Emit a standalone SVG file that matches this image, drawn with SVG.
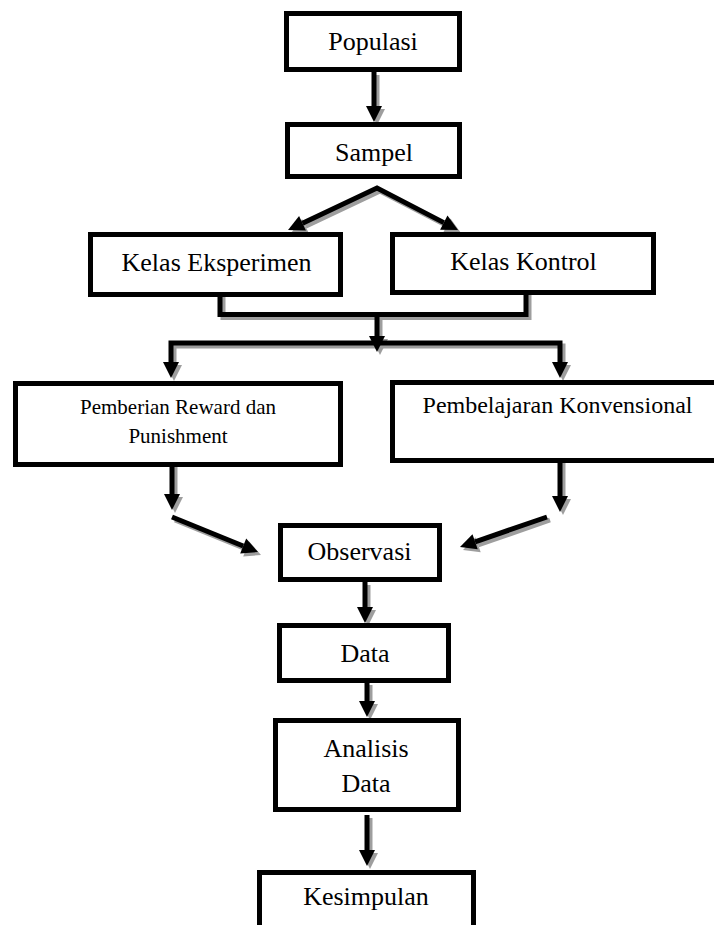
<svg xmlns="http://www.w3.org/2000/svg" width="714" height="925" viewBox="0 0 714 925">
<style>
.box{fill:#fff;stroke:#000;stroke-width:5}
.t{font-family:"Liberation Serif","Times New Roman",serif;font-size:26px;fill:#000;text-anchor:middle}
.s{font-size:21px}
.m{font-size:24px}
.c{fill:none;stroke:#000;stroke-width:5;stroke-linejoin:miter;marker-end:url(#ah)}
.sh{fill:none;stroke:#9e9e9e;stroke-width:5;stroke-linejoin:miter;marker-end:url(#ahg)}
.both.c{marker-start:url(#ah)}
.both.sh{marker-start:url(#ahg)}
.no{marker-end:none}
</style>
<defs>
<marker id="ah" markerUnits="userSpaceOnUse" markerWidth="18" markerHeight="18" refX="0" refY="8" orient="auto-start-reverse" overflow="visible"><path d="M0,0 L16,8 L0,16 z" fill="#000"/></marker>
<marker id="ahg" markerUnits="userSpaceOnUse" markerWidth="18" markerHeight="18" refX="0" refY="8" orient="auto-start-reverse" overflow="visible"><path d="M0,0 L16,8 L0,16 z" fill="#9e9e9e"/></marker>
<g id="paths">
</g>
</defs>
<rect width="714" height="925" fill="#fff"/>
<g id="connectors">
<g transform="translate(3,3)">
<path class="sh" d="M374,72 V106"/>
<path class="sh both" d="M302.5,223.2 L377,188 L443.8,222.6"/>
<path class="sh no" d="M220,288 V314.5 H526 V288"/>
<path class="sh" d="M377,314.5 V336"/>
<path class="sh both" d="M171,362 V343 H560 V362"/>
<path class="sh" d="M172,462 V494"/>
<path class="sh" d="M172,517 L243.2,546"/>
<path class="sh" d="M560,459 V496"/>
<path class="sh" d="M547,517 L475.1,541.8"/>
<path class="sh" d="M365,582 V607"/>
<path class="sh" d="M367,682 V701"/>
<path class="sh" d="M367,815 V850"/>
</g>
<path class="c" d="M374,72 V106"/>
<path class="c both" d="M302.5,223.2 L377,188 L443.8,222.6"/>
<path class="c no" d="M220,288 V314.5 H526 V288"/>
<path class="c" d="M377,314.5 V336"/>
<path class="c both" d="M171,362 V343 H560 V362"/>
<path class="c" d="M172,462 V494"/>
<path class="c" d="M172,517 L243.2,546"/>
<path class="c" d="M560,459 V496"/>
<path class="c" d="M547,517 L475.1,541.8"/>
<path class="c" d="M365,582 V607"/>
<path class="c" d="M367,682 V701"/>
<path class="c" d="M367,815 V850"/>
</g>
<g id="populasi"><rect class="box" x="286.5" y="13.5" width="173" height="56"/><text class="t" x="373" y="50">Populasi</text></g>
<g id="sampel"><rect class="box" x="287.5" y="124.5" width="172" height="52"/><text class="t" x="374" y="161">Sampel</text></g>
<g id="eksperimen"><rect class="box" x="90.5" y="234.5" width="250" height="60"/><text class="t" x="216.5" y="271">Kelas Eksperimen</text></g>
<g id="kontrol"><rect class="box" x="392.5" y="234.5" width="261" height="58"/><text class="t" x="523.5" y="270">Kelas Kontrol</text></g>
<g id="pemberian"><rect class="box" x="15.5" y="383.5" width="325" height="81"/><text class="t s" x="178" y="414">Pemberian Reward dan</text><text class="t s" x="178" y="443">Punishment</text></g>
<g id="pembelajaran"><rect class="box" x="392.5" y="382.5" width="340" height="78"/><text class="t m" x="557.5" y="413">Pembelajaran Konvensional</text></g>
<g id="observasi"><rect class="box" x="280.5" y="525.5" width="159" height="54"/><text class="t" x="359.5" y="560">Observasi</text></g>
<g id="data"><rect class="box" x="279.5" y="625.5" width="169" height="55"/><text class="t" x="365" y="662">Data</text></g>
<g id="analisis"><rect class="box" x="275.5" y="720.5" width="183" height="89"/><text class="t" x="366" y="757">Analisis</text><text class="t" x="366" y="792">Data</text></g>
<g id="kesimpulan"><rect class="box" x="259.5" y="872.5" width="214" height="80"/><text class="t" x="366" y="905">Kesimpulan</text></g>
</svg>
